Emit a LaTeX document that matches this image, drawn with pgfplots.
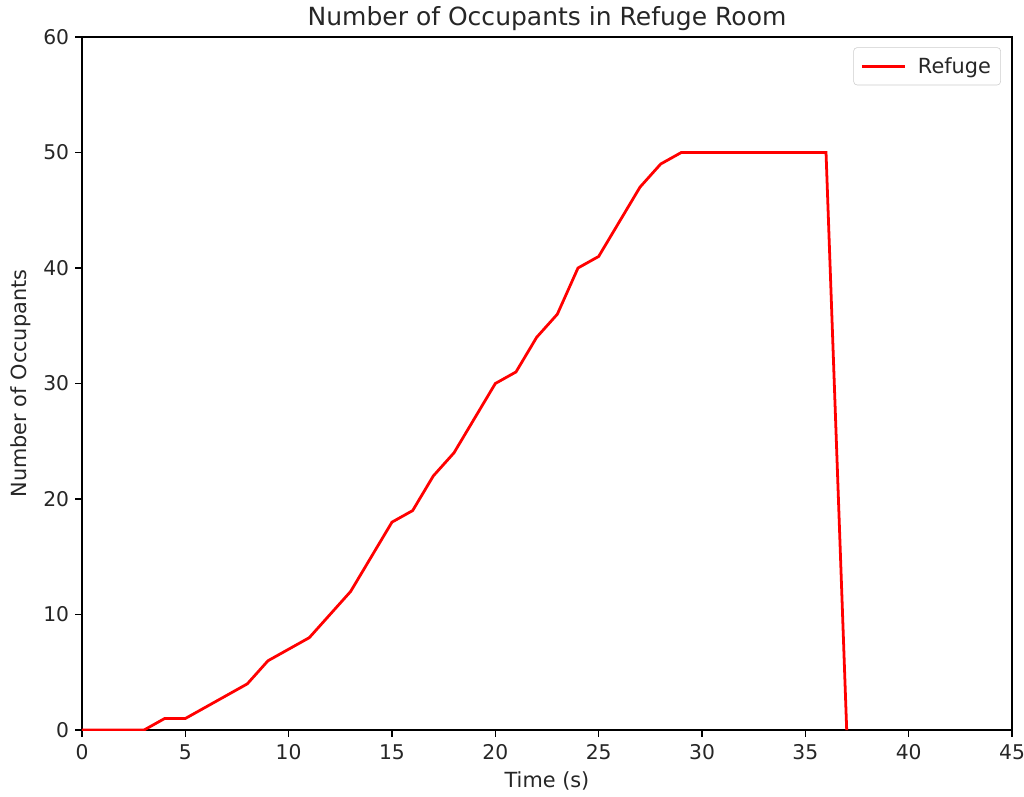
\documentclass[border=0pt]{standalone}
\usepackage{fontspec}
\setmainfont{DejaVu Sans}
\usepackage{pgfplots}
\pgfplotsset{compat=1.18}
\begin{document}
\begin{tikzpicture}
\useasboundingbox (-59pt,-47.5pt) rectangle (678.2pt,525.6pt);
\begin{axis}[
  at={(0,0)}, anchor=south west,
  scale only axis, width=669.6pt, height=499pt,
  xmin=0, xmax=45, ymin=0, ymax=60,
  xtick={0,5,...,45}, ytick={0,10,...,60},
  tick align=outside, tick pos=left,
  major tick length=4.7pt,
  every tick/.style={black, line width=1.07pt},
  axis line style={line width=1.07pt},
  /pgf/number format/assume math mode=true,
  tick label style={font=\fontsize{14.6pt}{17pt}\selectfont, text=black!85},
  label style={font=\fontsize{15pt}{18pt}\selectfont, text=black!85},
  xticklabel style={yshift=-2pt},
  yticklabel style={xshift=-1pt},
  xlabel={Time (s)}, ylabel={Number of Occupants},
  xlabel style={yshift=-2pt},
  ylabel style={yshift=2pt},
  title={Number of Occupants in Refuge Room},
  title style={font=\fontsize{18pt}{21pt}\selectfont, yshift=-5pt, text=black!85},
  legend style={font=\fontsize{15pt}{18pt}\selectfont, text=black!85, draw=black!20, rounded corners=2.5pt, inner xsep=5pt, inner ysep=5pt, at={(0.988,0.985)}, anchor=north east, /tikz/every odd column/.append style={column sep=6pt}},
  legend cell align=left,
  legend image code/.code={\draw[#1] (0cm,0cm) -- (1.1cm,0cm);},
]
\addplot[red, line width=2pt] coordinates {
(0,0) (1,0) (2,0) (3,0) (4,1) (5,1) (6,2) (7,3) (8,4) (9,6) (10,7)
(11,8) (12,10) (13,12) (14,15) (15,18) (16,19) (17,22) (18,24) (19,27)
(20,30) (21,31) (22,34) (23,36) (24,40) (25,41) (26,44) (27,47) (28,49)
(29,50) (30,50) (31,50) (32,50) (33,50) (34,50) (35,50) (36,50) (37,0)
};
\addlegendentry{Refuge}
\end{axis}
\end{tikzpicture}
\end{document}
